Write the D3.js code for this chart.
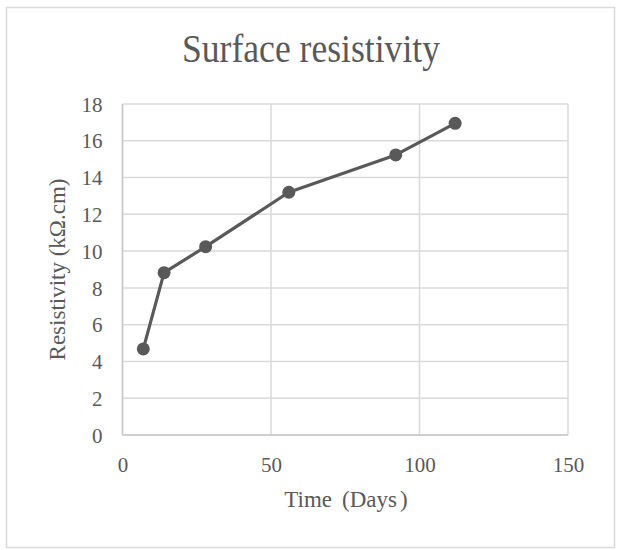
<!DOCTYPE html>
<html>
<head>
<meta charset="utf-8">
<script src="https://cdn.jsdelivr.net/npm/d3@7"></script>
<style>
  html, body { margin: 0; padding: 0; background: #fff; }
  svg { display: block; }
  text { font-family: "Liberation Serif", "Times New Roman", serif; fill: #595959; }
</style>
</head>
<body>
<svg id="chart" width="621" height="550"></svg>
<script>
// Data
const days = [7, 14, 28, 56, 92, 112];
const resistivity = [4.68, 8.83, 10.24, 13.2, 15.23, 16.95];
const xTicks = [0, 50, 100, 150];
const yTicks = [0, 2, 4, 6, 8, 10, 12, 14, 16, 18];
const title = "Surface resistivity";
const xTitleParts = ["Time", "(Days", ")"];
const yTitle = "Resistivity (kΩ.cm)";

const svg = d3.select("#chart");
const plot = { left: 122.5, right: 568, top: 104, bottom: 435 };
const SERIF = "'Liberation Serif', 'Times New Roman', serif";

// chart border
svg.append("rect")
  .attr("x", 6.5).attr("y", 7.5).attr("width", 608).attr("height", 540)
  .attr("fill", "#fff").attr("stroke", "#d9d9d9").attr("stroke-width", 1.5);

const x = d3.scaleLinear().domain([0, 150]).range([plot.left, plot.right]);
const y = d3.scaleLinear().domain([0, 18]).range([plot.bottom, plot.top]);

// gridlines
const grid = svg.append("g");
grid.selectAll("line.h").data(yTicks).join("line")
  .attr("x1", plot.left).attr("x2", plot.right)
  .attr("y1", d => y(d)).attr("y2", d => y(d))
  .attr("stroke", "#d9d9d9").attr("stroke-width", 1.5);
grid.selectAll("line.v").data(xTicks).join("line")
  .attr("y1", plot.top).attr("y2", plot.bottom)
  .attr("x1", d => x(d)).attr("x2", d => x(d))
  .attr("stroke", "#d9d9d9").attr("stroke-width", 1.5);

// axes lines
svg.append("line").attr("x1", plot.left).attr("x2", plot.right)
  .attr("y1", plot.bottom).attr("y2", plot.bottom)
  .attr("stroke", "#c8c8c8").attr("stroke-width", 1.5);
svg.append("line").attr("x1", plot.left).attr("x2", plot.left)
  .attr("y1", plot.top).attr("y2", plot.bottom)
  .attr("stroke", "#c8c8c8").attr("stroke-width", 1.5);

// axes labels via d3 axes
const xAxis = d3.axisBottom(x).tickValues(xTicks).tickSize(0).tickPadding(0);
const gx = svg.append("g").attr("transform", `translate(0,${plot.bottom})`).call(xAxis)
  .attr("font-family", null).attr("font-size", null);
gx.select(".domain").remove();
gx.selectAll("text").attr("dy", null).attr("y", 37).attr("fill", "#595959")
  .style("font-family", SERIF).style("font-size", "21px");

const yAxis = d3.axisLeft(y).tickValues(yTicks).tickSize(0).tickPadding(0);
const gy = svg.append("g").attr("transform", `translate(${plot.left},0)`).call(yAxis)
  .attr("font-family", null).attr("font-size", null);
gy.select(".domain").remove();
gy.selectAll("text").attr("x", -20).attr("dy", "0.34em").attr("fill", "#595959")
  .style("font-family", SERIF).style("font-size", "21px");

// series
const pts = days.map((d, i) => [d, resistivity[i]]);
svg.append("path").datum(pts)
  .attr("fill", "none").attr("stroke", "#595959").attr("stroke-width", 3.2)
  .attr("stroke-linejoin", "round")
  .attr("d", d3.line().x(d => x(d[0])).y(d => y(d[1])));
svg.append("g").selectAll("circle").data(pts).join("circle")
  .attr("cx", d => x(d[0])).attr("cy", d => y(d[1])).attr("r", 6.5)
  .attr("fill", "#595959");

// titles
svg.append("text").attr("x", 311).attr("y", 62).attr("text-anchor", "middle")
  .attr("textLength", 258).attr("lengthAdjust", "spacingAndGlyphs")
  .style("font-size", "40px").text(title);
const xt = svg.append("text").attr("x", 346).attr("y", 507).attr("text-anchor", "middle")
  .style("font-size", "23px");
xt.append("tspan").text(xTitleParts[0]);
xt.append("tspan").attr("dx", 10).text(xTitleParts[1]);
xt.append("tspan").attr("dx", 3).text(xTitleParts[2]);
svg.append("text")
  .attr("transform", `translate(65,${(plot.top + plot.bottom) / 2}) rotate(-90)`)
  .attr("text-anchor", "middle")
  .style("font-size", "23px").text(yTitle);
</script>
</body>
</html>
